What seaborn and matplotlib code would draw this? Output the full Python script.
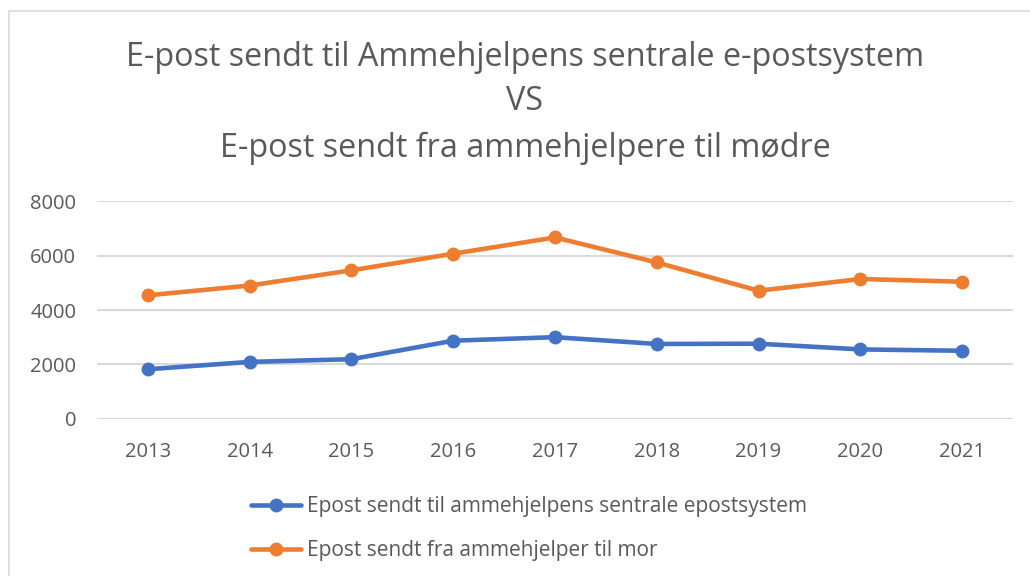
import matplotlib
matplotlib.use("Agg")
import matplotlib.pyplot as plt
import seaborn as sns
import pandas as pd
from matplotlib.patches import Rectangle
from matplotlib.lines import Line2D

years = ["2013", "2014", "2015", "2016", "2017", "2018", "2019", "2020", "2021"]
sentral = [1820, 2090, 2190, 2870, 3000, 2750, 2760, 2550, 2500]
til_mor = [4540, 4900, 5460, 6070, 6670, 5750, 4710, 5140, 5040]
series_names = ["Epost sendt til ammehjelpens sentrale epostsystem",
                "Epost sendt fra ammehjelper til mor"]
colors = ["#4472C4", "#ED7D31"]
title_lines = ["E-post sendt til Ammehjelpens sentrale e-postsystem", "VS",
               "E-post sendt fra ammehjelpere til mødre"]

df = pd.DataFrame({
    "year": years * 2,
    "value": sentral + til_mor,
    "series": [series_names[0]] * len(years) + [series_names[1]] * len(years),
})

sns.set_theme(style="white")
plt.rcParams["font.family"] = ["Open Sans", "DejaVu Sans"]

fig = plt.figure(figsize=(10.30, 5.76), dpi=100)
ax = fig.add_axes([97 / 1030, 1 - 418.7 / 576, (1013 - 97) / 1030, (418.7 - 201.3) / 576])

sns.lineplot(data=df, x="year", y="value", hue="series", palette=colors,
             marker="o", markersize=10, markeredgewidth=0, linewidth=3.3,
             sort=False, ax=ax, legend=False)

ax.set_ylim(0, 8000)
ax.set_xlim(-0.5, len(years) - 0.5)
ax.set_yticks([0, 2000, 4000, 6000, 8000])
ax.yaxis.grid(True, color="#d9d9d9", linewidth=1.5)
ax.set_axisbelow(True)
for s in ax.spines.values():
    s.set_visible(False)
ax.set_xlabel("")
ax.set_ylabel("")
ax.tick_params(axis="both", length=0, labelsize=14.5, colors="#595959")
ax.tick_params(axis="y", pad=15)
ax.tick_params(axis="x", pad=17)

ys = [57, 101, 148]
for t, y in zip(title_lines, ys):
    fig.text(525 / 1030, 1 - y / 576, t, ha="center", va="center",
             fontsize=23.3, color="#595959")

handles = [Line2D([], [], color=c, marker="o", markersize=10, markeredgewidth=0,
                  linewidth=3.3) for c in colors]
fig.legend(handles, series_names, loc="upper left",
           bbox_to_anchor=(243 / 1030, 1 - 488 / 576), frameon=False,
           fontsize=15, labelcolor="#595959", handlelength=2.4,
           handletextpad=0.25, labelspacing=1.1, borderaxespad=0)

fig.patches.append(Rectangle((9 / 1030, -0.1), 1.2, 1 - 11 / 576 + 0.1,
                             transform=fig.transFigure, fill=False,
                             edgecolor="#d9d9d9", linewidth=1.2))

fig.savefig("out.png", dpi=100)
